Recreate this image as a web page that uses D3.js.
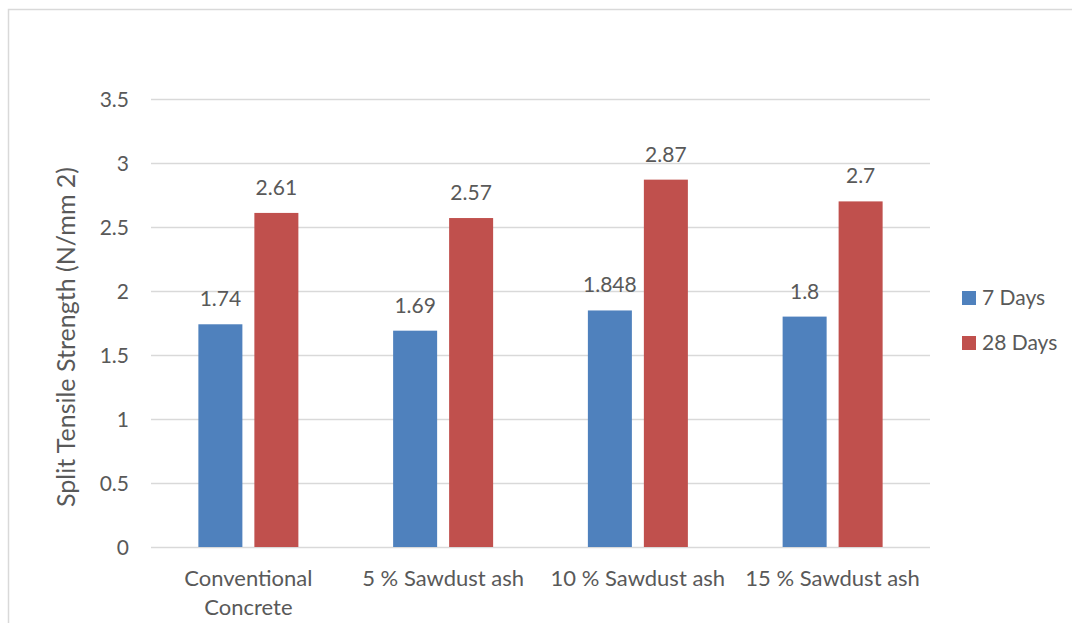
<!DOCTYPE html>
<html><head><meta charset="utf-8">
<script src="https://cdn.jsdelivr.net/npm/d3@7"></script>
<style>body{margin:0;background:#fff}svg{display:block}text{font-family:Lato,"Open Sans",sans-serif;fill:#595959}</style>
</head><body>
<svg id="c" width="1072" height="623"></svg>
<script>
const categories = ["Conventional\nConcrete", "5 % Sawdust ash", "10 % Sawdust ash", "15 % Sawdust ash"];
const seriesNames = ["7 Days", "28 Days"];
const days7 = [1.74, 1.69, 1.848, 1.8];
const days28 = [2.61, 2.57, 2.87, 2.7];
const labels7 = ["1.74", "1.69", "1.848", "1.8"];
const labels28 = ["2.61", "2.57", "2.87", "2.7"];
const yTicks = [0, 0.5, 1, 1.5, 2, 2.5, 3, 3.5];
const colors = ["#4F81BD", "#C0504D"];

const svg = d3.select("#c");
// outer border
svg.append("path").attr("d","M8.5,623 V9.5 H1072").attr("fill","none").attr("stroke","#D9D9D9").attr("stroke-width",1.5);

const pLeft=151, pRight=930, pTop=99, pBottom=547;
const y = d3.scaleLinear().domain([0,3.5]).range([pBottom,pTop]);
const x0 = d3.scaleBand().domain(categories).range([pLeft,pRight]);
const x1 = d3.scaleBand().domain(seriesNames).range([x0.bandwidth()/2-50, x0.bandwidth()/2+50]).paddingInner(0.214);

// gridlines
svg.append("g").selectAll("line").data(yTicks).join("line")
  .attr("x1",pLeft).attr("x2",pRight).attr("y1",d=>Math.round(y(d))+0.5).attr("y2",d=>Math.round(y(d))+0.5)
  .attr("stroke","#D9D9D9").attr("stroke-width",1.3);

// y axis labels
const yAxis = d3.axisLeft(y).tickValues(yTicks).tickSize(0).tickPadding(0).tickFormat(d=>String(d));
const ga = svg.append("g").attr("transform",`translate(${pLeft-22},0)`).call(yAxis);
ga.select(".domain").remove();
ga.selectAll("text").attr("font-size",21).attr("fill","#595959").attr("font-family","Lato,sans-serif").attr("dy","0.35em");

// title
svg.append("text").attr("transform",`translate(75,${(pTop+pBottom)/2 + 14}) rotate(-90)`).attr("text-anchor","middle")
  .attr("font-size",25).text("Split Tensile Strength (N/mm 2)");

const data = categories.map((c,i)=>({c, vals:[days7[i],days28[i]], labs:[labels7[i],labels28[i]]}));
const g = svg.append("g").selectAll("g").data(data).join("g").attr("transform",d=>`translate(${x0(d.c)},0)`);
g.selectAll("rect").data(d=>d.vals.map((v,j)=>({v,s:seriesNames[j],j}))).join("rect")
  .attr("x",d=>x1(d.s)).attr("width",x1.bandwidth()).attr("y",d=>y(d.v)).attr("height",d=>pBottom-y(d.v))
  .attr("fill",d=>colors[d.j]);
g.selectAll("text.lab").data(d=>d.vals.map((v,j)=>({v,s:seriesNames[j],lab:d.labs[j]}))).join("text").attr("class","lab")
  .attr("x",d=>x1(d.s)+x1.bandwidth()/2).attr("y",d=>y(d.v)-18).attr("text-anchor","middle").attr("font-size",21).attr("fill","#404040")
  .text(d=>d.lab);

// x labels
const xl = svg.append("g").selectAll("text").data(categories).join("text")
  .attr("x",d=>x0(d)+x0.bandwidth()/2).attr("y",586).attr("text-anchor","middle").attr("font-size",22);
xl.each(function(d){
  const lines=d.split("\n");
  d3.select(this).selectAll("tspan").data(lines).join("tspan").attr("x",x0(d)+x0.bandwidth()/2).attr("dy",(l,i)=>i?29:0).text(l=>l);
});

// legend
const lg = svg.append("g").selectAll("g").data(seriesNames).join("g").attr("transform",(d,i)=>`translate(962,${298+i*45})`);
lg.append("rect").attr("x",0).attr("y",-7).attr("width",14).attr("height",14).attr("fill",(d,i)=>colors[i]);
lg.append("text").attr("x",20).attr("y",0).attr("dy","0.35em").attr("font-size",21).text(d=>d);
</script>
</body></html>
